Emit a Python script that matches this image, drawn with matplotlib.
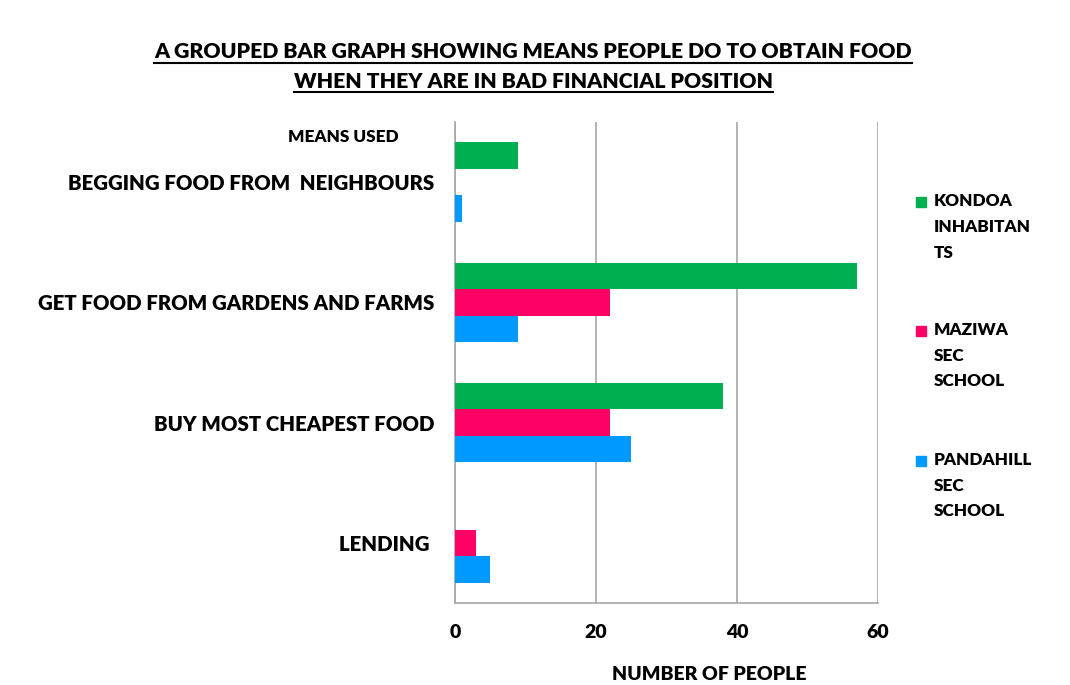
import matplotlib
matplotlib.use("Agg")
import matplotlib.pyplot as plt
from matplotlib.patches import Rectangle
from matplotlib.lines import Line2D
import numpy as np

plt.rcParams['font.family'] = ['Lato', 'DejaVu Sans']
plt.rcParams['font.weight'] = 'bold'

means = ["BEGGING FOOD FROM  NEIGHBOURS", "GET FOOD FROM GARDENS AND FARMS",
         "BUY MOST CHEAPEST FOOD", "LENDING "]
kondoa = [9, 57, 38, 0]
maziwa = [0, 22, 22, 3]
pandahill = [1, 9, 25, 5]
series_names = ["KONDOA\nINHABITAN\nTS", "MAZIWA\nSEC\nSCHOOL", "PANDAHILL\nSEC\nSCHOOL"]
colors = ["#00B050", "#FF0066", "#0099FF"]
x_ticks = [0, 20, 40, 60]

W, H = 1070, 685
fig = plt.figure(figsize=(W / 100, H / 100), dpi=100)
ax = fig.add_axes([455 / W, 1 - 603 / H, (878 - 455) / W, (603 - 122) / H])

y = np.arange(len(means))
h = 0.22
for i, (vals, c) in enumerate(zip([kondoa, maziwa, pandahill], colors)):
    ax.barh(y + (i - 1) * h, vals, height=h, color=c, zorder=3)

ax.set_xlim(0, 60)
ax.set_ylim(3.5, -0.5)
ax.set_xticks(x_ticks)
ax.set_xticklabels([str(t) for t in x_ticks], fontsize=14, fontweight='heavy')
ax.set_yticks(y)
ax.set_yticklabels(means, fontsize=14.7, fontweight='heavy')
ax.tick_params(axis='y', length=0, pad=15)
ax.tick_params(axis='x', length=0, pad=15)
ax.grid(axis='x', color='#A6A6A6', linewidth=1.2, zorder=0)
for s in ['top', 'right']:
    ax.spines[s].set_visible(False)
for s in ['left', 'bottom']:
    ax.spines[s].set_color('#A6A6A6')
    ax.spines[s].set_linewidth(1.2)

# axis titles
fig.text(343 / W, 1 - 137 / H, "MEANS USED", fontsize=12.3, fontweight='heavy',
         ha='center', va='center')
fig.text(709 / W, 1 - 675 / H, "NUMBER OF PEOPLE", fontsize=14, fontweight='heavy',
         ha='center', va='center')

# underlined title
title_lines = ["A GROUPED BAR GRAPH SHOWING MEANS PEOPLE DO TO OBTAIN FOOD",
               "WHEN THEY ARE IN BAD FINANCIAL POSITION"]
fig.canvas.draw()
renderer = fig.canvas.get_renderer()
for line, ypx in zip(title_lines, [52, 81]):
    t = fig.text(533 / W, 1 - ypx / H, line, fontsize=15.3, fontweight='heavy',
                 ha='center', va='center')
    bb = t.get_window_extent(renderer=renderer)
    uy = bb.y0 - 1
    fig.add_artist(Line2D([bb.x0 / W, bb.x1 / W], [uy / H, uy / H],
                          color='black', linewidth=1.5, transform=fig.transFigure))

# legend
for name, c, ypx in zip(series_names, colors, [202, 331, 461]):
    fig.add_artist(Rectangle((916 / W, 1 - (ypx + 5) / H), 10 / W, 10 / H,
                             color=c, transform=fig.transFigure))
    fig.text(934 / W, 1 - (ypx - 9) / H, name, fontsize=12.3, fontweight='heavy',
             ha='left', va='top', linespacing=1.75)

fig.savefig("out.png", dpi=100)
